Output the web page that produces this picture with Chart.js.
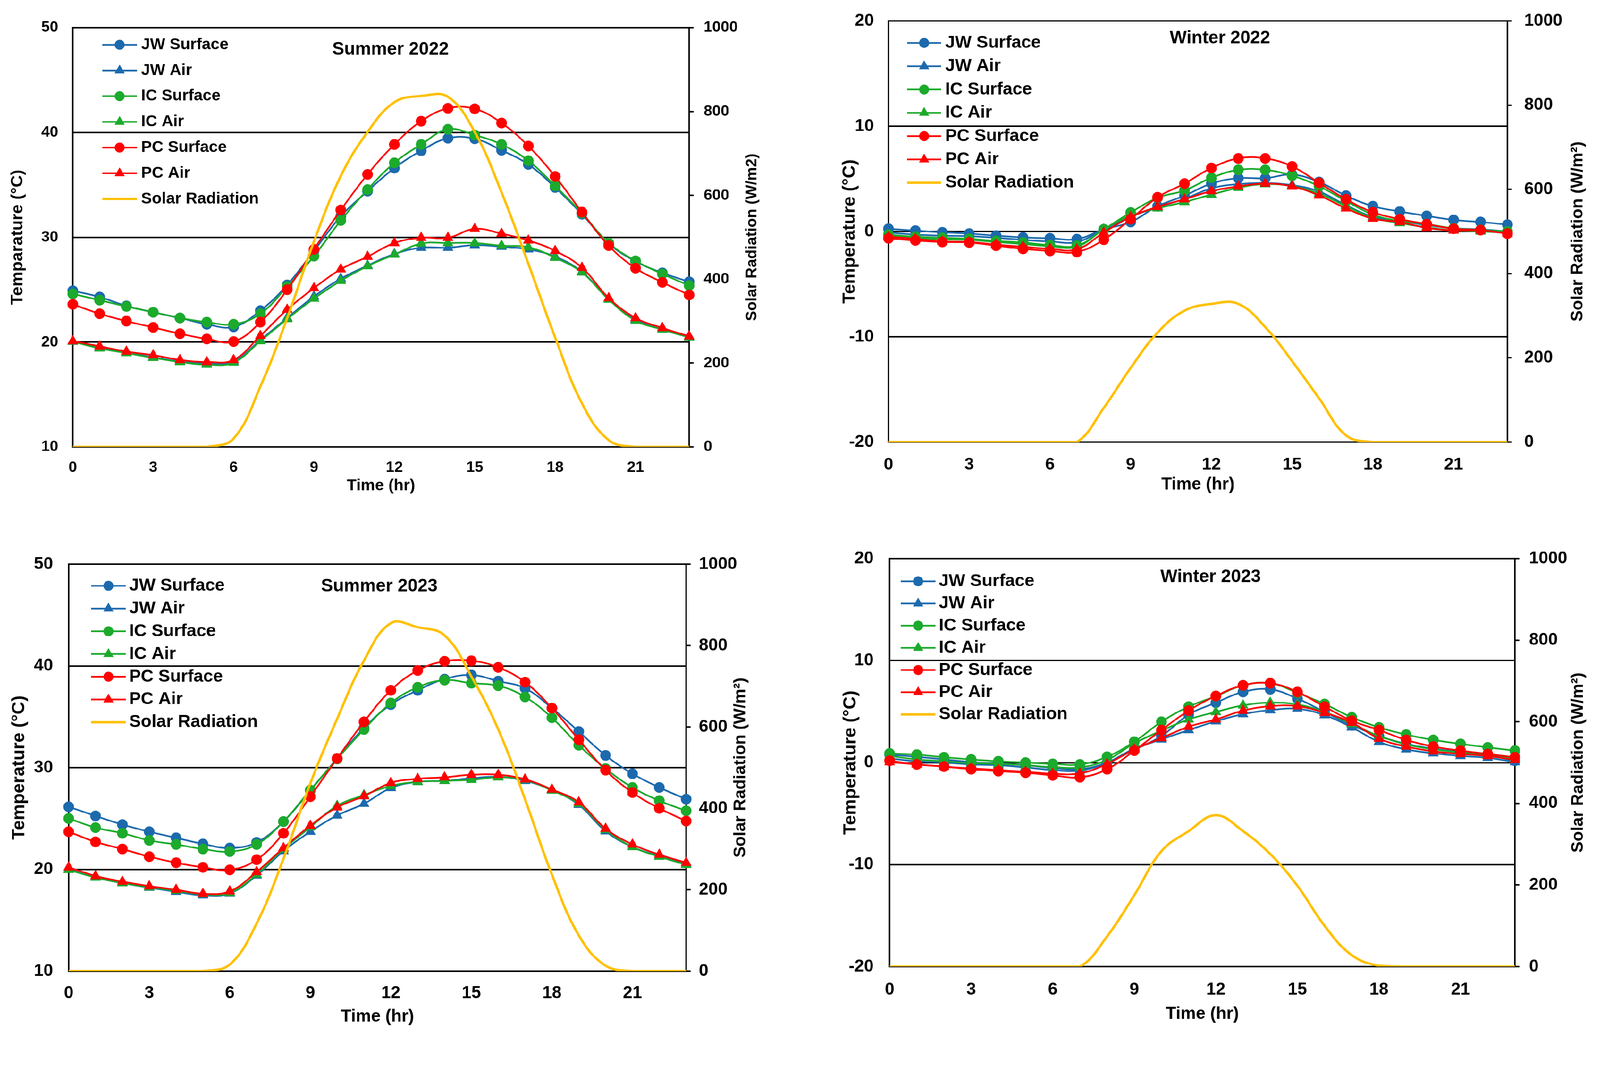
<!DOCTYPE html>
<html>
<head>
<meta charset="utf-8">
<title>Temperature and solar radiation</title>
<script src="https://cdn.jsdelivr.net/npm/chart.js@4.4.1/dist/chart.umd.min.js"></script>
<style>
    html, body { margin: 0; padding: 0; background: #fff; overflow: hidden; }
    #page { position: absolute; left: 0; top: 0; width: 4286px; height: 2767px; transform-origin: 0 0; }
    canvas { position: absolute; }
</style>
</head>
<body>
<div id="page">
<canvas id="summer22"></canvas>
<canvas id="winter22"></canvas>
<canvas id="summer23"></canvas>
<canvas id="winter23"></canvas>
</div>
<script>
/* Categories and ticks */
var hours = [0, 1, 2, 3, 4, 5, 6, 7, 8, 9, 10, 11, 12, 13, 14, 15, 16, 17, 18, 19, 20, 21, 22, 23];
var hourTicks = [0, 3, 6, 9, 12, 15, 18, 21];
var summerTempTicks = [10, 20, 30, 40, 50];
var winterTempTicks = [-20, -10, 0, 10, 20];
var solarTicks = [0, 200, 400, 600, 800, 1000];
var seriesNames = ['JW Surface', 'JW Air', 'IC Surface', 'IC Air', 'PC Surface', 'PC Air'];

/* Summer 2022 */
var jwSurfS22 = [24.9, 24.3, 23.45, 22.85, 22.3, 21.7, 21.45, 23.0, 25.45, 28.7, 32.0, 34.4, 36.6, 38.25, 39.45, 39.4, 38.3, 36.95, 34.75, 32.2, 29.4, 27.7, 26.6, 25.75];
var jwAirS22 = [20.05, 19.45, 19.0, 18.55, 18.15, 17.95, 18.15, 20.2, 22.3, 24.35, 26.05, 27.3, 28.4, 29.0, 29.0, 29.25, 29.1, 28.85, 28.15, 26.7, 24.1, 22.15, 21.2, 20.45];
var icSurfS22 = [24.6, 24.0, 23.4, 22.85, 22.3, 21.9, 21.7, 22.7, 25.3, 28.2, 31.6, 34.55, 37.1, 38.85, 40.3, 39.75, 38.85, 37.3, 34.9, 32.3, 29.45, 27.75, 26.5, 25.4];
var icAirS22 = [20.05, 19.4, 18.95, 18.5, 18.1, 17.85, 18.05, 20.1, 22.2, 24.15, 25.85, 27.25, 28.35, 29.4, 29.45, 29.45, 29.2, 29.05, 28.05, 26.65, 24.05, 22.05, 21.2, 20.45];
var pcSurfS22 = [23.6, 22.7, 22.0, 21.4, 20.8, 20.3, 20.05, 21.9, 25.0, 28.85, 32.6, 36.0, 38.85, 41.07, 42.3, 42.25, 40.9, 38.7, 35.8, 32.4, 29.2, 27.05, 25.7, 24.5];
var pcAirS22 = [20.1, 19.6, 19.1, 18.75, 18.3, 18.1, 18.3, 20.6, 23.1, 25.15, 26.95, 28.15, 29.45, 29.95, 29.95, 30.8, 30.35, 29.7, 28.7, 27.1, 24.2, 22.3, 21.35, 20.55];
var solarS22 = [0, 0, 0, 0, 0, 0, 20, 144, 307, 490, 646, 751, 822, 837, 835, 751, 607, 437, 261, 104, 16, 0, 0, 0];

/* Winter 2022 */
var jwSurfW22 = [0.26, 0.08, -0.08, -0.2, -0.4, -0.57, -0.65, -0.73, 0.2, 0.9, 2.4, 3.4, 4.55, 5.06, 5.06, 5.4, 4.7, 3.4, 2.4, 1.9, 1.48, 1.1, 0.9, 0.65];
var jwAirW22 = [-0.1, -0.3, -0.4, -0.45, -0.6, -0.8, -0.95, -1.0, 0.2, 1.4, 2.3, 3.1, 4.1, 4.5, 4.6, 4.4, 3.8, 2.5, 1.4, 1.0, 0.6, 0.3, 0.2, 0.0];
var icSurfW22 = [-0.3, -0.5, -0.6, -0.7, -0.9, -1.05, -1.3, -1.35, 0.2, 1.8, 3.2, 3.9, 5.1, 5.85, 5.85, 5.3, 4.3, 2.9, 1.6, 1.0, 0.7, 0.3, 0.15, 0.0];
var icAirW22 = [-0.4, -0.6, -0.75, -0.8, -1.0, -1.2, -1.4, -1.45, 0.2, 1.5, 2.2, 2.8, 3.5, 4.15, 4.5, 4.3, 3.6, 2.4, 1.3, 0.8, 0.4, 0.1, 0.0, -0.1];
var pcSurfW22 = [-0.65, -0.85, -1.0, -1.05, -1.35, -1.65, -1.85, -1.95, -0.78, 1.17, 3.25, 4.55, 6.03, 6.94, 6.94, 6.18, 4.62, 3.06, 1.82, 1.17, 0.7, 0.26, 0.13, -0.2];
var pcAirW22 = [-0.5, -0.7, -0.95, -1.0, -1.25, -1.45, -1.65, -1.7, -0.1, 1.38, 2.34, 3.06, 3.84, 4.28, 4.55, 4.28, 3.43, 2.2, 1.22, 0.9, 0.34, 0.1, 0.1, -0.2];
var solarW22 = [0, 0, 0, 0, 0, 0, 0, 0, 81, 176, 260, 312, 328, 328, 273, 192, 104, 16, 0, 0, 0, 0, 0, 0];

/* Summer 2023 */
var jwSurfS23 = [26.15, 25.25, 24.4, 23.7, 23.1, 22.5, 22.1, 22.65, 24.7, 27.75, 30.9, 33.9, 36.2, 37.6, 38.7, 39.1, 38.5, 37.8, 35.85, 33.55, 31.2, 29.4, 28.05, 26.9];
var jwAirS23 = [20.0, 19.2, 18.65, 18.2, 17.8, 17.45, 17.65, 19.4, 21.8, 23.7, 25.3, 26.45, 28.0, 28.6, 28.7, 28.95, 29.1, 28.7, 27.8, 26.35, 23.75, 22.2, 21.3, 20.5];
var icSurfS23 = [25.0, 24.1, 23.55, 22.85, 22.45, 22.0, 21.75, 22.45, 24.7, 27.8, 30.85, 33.75, 36.35, 37.9, 38.6, 38.3, 38.05, 36.95, 34.9, 32.2, 29.9, 28.05, 26.75, 25.75];
var icAirS23 = [19.95, 19.2, 18.65, 18.25, 17.9, 17.55, 17.7, 19.5, 22.0, 24.15, 26.25, 27.3, 28.2, 28.6, 28.7, 28.8, 29.05, 28.8, 27.75, 26.45, 23.9, 22.2, 21.25, 20.45];
var pcSurfS23 = [23.7, 22.7, 22.0, 21.25, 20.65, 20.2, 19.95, 20.95, 23.55, 27.15, 30.9, 34.5, 37.6, 39.55, 40.45, 40.5, 39.85, 38.4, 35.85, 32.75, 29.75, 27.55, 26.0, 24.75];
var pcAirS23 = [20.2, 19.35, 18.8, 18.35, 18.0, 17.6, 17.85, 19.75, 22.1, 24.3, 26.1, 27.2, 28.5, 28.9, 29.05, 29.3, 29.3, 28.85, 27.85, 26.6, 24.0, 22.45, 21.45, 20.65];
var solarS23 = [0, 0, 0, 0, 0, 0, 16, 117, 276, 461, 620, 763, 855, 845, 825, 724, 594, 422, 237, 88, 13, 0, 0, 0];

/* Winter 2023 */
var jwSurfW23 = [0.78, 0.57, 0.31, 0.05, -0.08, -0.26, -0.52, -0.65, 0.0, 1.25, 2.6, 4.7, 5.87, 6.92, 7.18, 6.27, 4.96, 3.66, 2.6, 1.83, 1.36, 1.04, 0.73, 0.18];
var jwAirW23 = [0.4, 0.13, 0.0, -0.18, -0.26, -0.47, -0.73, -0.78, 0.0, 1.36, 2.27, 3.19, 4.05, 4.75, 5.14, 5.27, 4.65, 3.45, 2.04, 1.3, 0.91, 0.65, 0.47, 0.05];
var icSurfW23 = [0.9, 0.78, 0.52, 0.31, 0.13, 0.0, -0.13, -0.18, 0.57, 2.04, 4.0, 5.48, 6.5, 7.57, 7.78, 6.84, 5.74, 4.44, 3.45, 2.74, 2.22, 1.83, 1.49, 1.17];
var icAirW23 = [0.65, 0.31, 0.13, -0.05, -0.13, -0.26, -0.44, -0.47, 0.26, 1.88, 3.13, 4.23, 4.96, 5.61, 5.87, 5.69, 4.96, 3.79, 2.61, 1.78, 1.3, 0.99, 0.73, 0.39];
var pcSurfW23 = [0.18, -0.18, -0.39, -0.65, -0.84, -0.99, -1.25, -1.44, -0.65, 1.17, 3.19, 5.09, 6.53, 7.57, 7.78, 6.92, 5.48, 4.1, 3.19, 2.22, 1.57, 1.17, 0.84, 0.52];
var pcAirW23 = [0.05, -0.18, -0.4, -0.57, -0.73, -0.9, -1.1, -1.05, -0.13, 1.3, 2.4, 3.52, 4.23, 5.09, 5.53, 5.53, 4.88, 3.92, 2.35, 1.57, 1.1, 0.84, 0.65, 0.26];
var solarW23 = [0, 0, 0, 0, 0, 0, 0, 0, 74, 175, 283, 332, 371, 332, 276, 198, 100, 28, 2, 0, 0, 0, 0, 0];

/* Styles */
var FONT = "'Liberation Sans', Arial, sans-serif";
var BLUE = '#1c6aad';
var GREEN = '#1caa2c';
var RED = '#ff0000';
var YELLOW = '#ffc000';
var seriesColors = [BLUE, BLUE, GREEN, GREEN, RED, RED];
var seriesMarkers = ['circle', 'triangle', 'circle', 'triangle', 'circle', 'triangle'];

// Space kept round each plot area for the axes (top must beat the tick label overhang)
var AXIS_LEFT = 220;
var AXIS_RIGHT = 240;
var AXIS_BOTTOM = 170;
var PAD_TOP = 110;
var RIGHT_TICK = 12;

var smallText = { tick: 41, yTitle: 45, rTitle: 41, xTitle: 43, legend: 43, title: 48 };
var bigText = { tick: 46, yTitle: 48, rTitle: 45, xTitle: 46, legend: 47, title: 48 };

/* One entry per panel: where its plot sits on the page and how its text is placed */
var panels = [
    {
        id: 'summer22', plot: [195, 74, 1846, 1197], yMin: 10, yMax: 50, yTicks: summerTempTicks,
        temps: [jwSurfS22, jwAirS22, icSurfS22, icAirS22, pcSurfS22, pcAirS22], solar: solarS22,
        title: 'Summer 2022', yTitle: 'Temparature (°C)', rTitle: 'Solar Radiation (W/m2)',
        text: smallText, titleAt: [851, 59],
        leftGap: 39, rightGap: 39, leftTitle: 147, rightTitle: 169, xTick: 48, xTitle: 104,
        legend: { lineStart: 79, lineEnd: 172, textX: 183, top: 46, gap: 68.8 }
    },
    {
        id: 'winter22', plot: [2380, 56, 4038, 1184], yMin: -20, yMax: 20, yTicks: winterTempTicks,
        temps: [jwSurfW22, jwAirW22, icSurfW22, icAirW22, pcSurfW22, pcAirW22], solar: solarW22,
        title: 'Winter 2022', yTitle: 'Temperature (°C)', rTitle: 'Solar Radiation (W/m²)',
        text: bigText, titleAt: [888, 47],
        leftGap: 39, rightGap: 45, leftTitle: 103, rightTitle: 189, xTick: 53, xTitle: 114,
        legend: { lineStart: 50, lineEnd: 141, textX: 152, top: 59, gap: 62.4 }
    },
    {
        id: 'summer23', plot: [184, 1511, 1838, 2601], yMin: 10, yMax: 50, yTicks: summerTempTicks,
        temps: [jwSurfS23, jwAirS23, icSurfS23, icAirS23, pcSurfS23, pcAirS23], solar: solarS23,
        title: 'Summer 2023', yTitle: 'Temperature (°C)', rTitle: 'Solar Radiation (W/m²)',
        text: bigText, titleAt: [832, 60],
        leftGap: 42, rightGap: 34, leftTitle: 132, rightTitle: 146, xTick: 51, xTitle: 122,
        legend: { lineStart: 60, lineEnd: 153, textX: 162, top: 58, gap: 60.9 }
    },
    {
        id: 'winter23', plot: [2383, 1496, 4058, 2589], yMin: -20, yMax: 20, yTicks: winterTempTicks,
        temps: [jwSurfW23, jwAirW23, icSurfW23, icAirW23, pcSurfW23, pcAirW23], solar: solarW23,
        title: 'Winter 2023', yTitle: 'Temperature (°C)', rTitle: 'Solar Radiation (W/m²)',
        text: bigText, titleAt: [860, 50],
        leftGap: 43, rightGap: 38, leftTitle: 104, rightTitle: 170, xTick: 54, xTitle: 127,
        legend: { lineStart: 30, lineEnd: 123, textX: 132, top: 61, gap: 59.4 }
    }
];

/* Fit the 4286 px wide page into whatever the window really is */
var page = document.getElementById('page');
var pageScale = (window.innerWidth || 4286) / 4286;
page.style.transform = 'scale(' + pageScale + ')';

/* Draw a marker like the ones Chart.js puts on the lines */
function drawMarker(ctx, style, radius, x, y) {
    if (Chart.helpers && Chart.helpers.drawPoint) {
        Chart.helpers.drawPoint(ctx, { pointStyle: style, radius: radius, rotation: 0, borderWidth: 1 }, x, y);
        return;
    }
    ctx.beginPath();
    if (style === 'triangle') {
        ctx.moveTo(x, y - radius);
        ctx.lineTo(x + radius * 0.866, y + radius / 2);
        ctx.lineTo(x - radius * 0.866, y + radius / 2);
        ctx.closePath();
    } else {
        ctx.arc(x, y, radius, 0, Math.PI * 2);
    }
    ctx.fill();
    ctx.stroke();
}

/* Panel title, right axis title (read bottom to top) and the legend inside the plot */
var panelText = {
    id: 'panelText',
    afterDatasetsDraw: function(chart, args, opts) {
        var ctx = chart.ctx;
        var area = chart.chartArea;

        ctx.save();
        ctx.fillStyle = '#000';
        ctx.textBaseline = 'middle';

        // Title inside the plot
        ctx.textAlign = 'center';
        ctx.font = 'bold ' + opts.text.title + 'px ' + FONT;
        ctx.fillText(opts.title, area.left + opts.titleAt[0], area.top + opts.titleAt[1]);

        // Legend
        var lg = opts.legend;
        ctx.textAlign = 'left';
        ctx.font = 'bold ' + opts.text.legend + 'px ' + FONT;
        chart.data.datasets.forEach(function(ds, i) {
            var y = area.top + lg.top + i * lg.gap;
            ctx.strokeStyle = ds.borderColor;
            ctx.lineWidth = ds.borderWidth;
            ctx.beginPath();
            ctx.moveTo(area.left + lg.lineStart, y);
            ctx.lineTo(area.left + lg.lineEnd, y);
            ctx.stroke();
            if (ds.pointRadius > 0) {
                ctx.fillStyle = ds.pointBackgroundColor;
                ctx.strokeStyle = ds.pointBorderColor;
                ctx.lineWidth = 1;
                drawMarker(ctx, ds.pointStyle, ds.pointRadius - 1, area.left + (lg.lineStart + lg.lineEnd) / 2, y);
            }
            ctx.fillStyle = '#000';
            ctx.fillText(ds.label, area.left + lg.textX, y);
        });

        // Right axis title
        ctx.translate(area.right + opts.rightTitle, (area.top + area.bottom) / 2);
        ctx.rotate(-Math.PI / 2);
        ctx.textAlign = 'center';
        ctx.font = 'bold ' + opts.text.rTitle + 'px ' + FONT;
        ctx.fillText(opts.rTitle, 0, 0);
        ctx.restore();
    }
};

function toPoints(values) {
    return hours.map(function(h, i) { return { x: h, y: values[i] }; });
}

function useTicks(values) {
    return function(scale) {
        scale.ticks = values.map(function(v) { return { value: v }; });
    };
}

function makePanel(p) {
    var L = p.plot[0], T = p.plot[1], R = p.plot[2], B = p.plot[3];
    var w = (R - L) + AXIS_LEFT + AXIS_RIGHT;
    var h = (B - T) + PAD_TOP + AXIS_BOTTOM;
    var canvas = document.getElementById(p.id);
    canvas.width = w;
    canvas.height = h;
    canvas.style.width = w + 'px';
    canvas.style.height = h + 'px';
    canvas.style.left = (L - AXIS_LEFT) + 'px';
    canvas.style.top = (T - PAD_TOP) + 'px';

    var fs = p.text;

    // Temperature series first, solar radiation last (drawn on top)
    var datasets = seriesNames.map(function(name, i) {
        var radius = seriesMarkers[i] === 'triangle' ? 16 : 14;
        return {
            label: name,
            data: toPoints(p.temps[i]),
            yAxisID: 'y',
            borderColor: seriesColors[i],
            backgroundColor: seriesColors[i],
            borderWidth: 4.5,
            pointStyle: seriesMarkers[i],
            pointRadius: radius,
            pointBackgroundColor: seriesColors[i],
            pointBorderColor: seriesColors[i],
            pointBorderWidth: 1,
            tension: 0.4,
            clip: false,
            order: -i
        };
    });
    datasets.push({
        label: 'Solar Radiation',
        data: toPoints(p.solar),
        yAxisID: 'y1',
        borderColor: YELLOW,
        backgroundColor: YELLOW,
        borderWidth: 6.5,
        pointRadius: 0,
        tension: 0.4,
        order: -6
    });

    var tickFont = { size: fs.tick, weight: 'bold' };

    return new Chart(canvas, {
        type: 'line',
        data: { datasets: datasets },
        plugins: [panelText],
        options: {
            responsive: false,
            animation: false,
            devicePixelRatio: 1,
            events: [],
            layout: { padding: { top: PAD_TOP, left: 0, right: 0, bottom: 0 } },
            plugins: {
                legend: { display: false },
                title: { display: false },
                tooltip: { enabled: false },
                panelText: {
                    title: p.title, titleAt: p.titleAt, rTitle: p.rTitle,
                    rightTitle: p.rightTitle, legend: p.legend, text: fs
                }
            },
            scales: {
                x: {
                    type: 'linear',
                    min: 0,
                    max: 23,
                    afterBuildTicks: useTicks(hourTicks),
                    afterFit: function(s) { s.height = AXIS_BOTTOM; },
                    grid: { display: false },
                    border: { display: true, color: '#000', width: 4 },
                    ticks: {
                        color: '#000', font: tickFont, maxRotation: 0, autoSkip: false,
                        padding: p.xTick - fs.tick * 0.6,
                        callback: function(v) { return String(v); }
                    },
                    title: {
                        display: true, text: 'Time (hr)', color: '#000',
                        font: { size: fs.xTitle, weight: 'bold' },
                        padding: { top: 0, bottom: AXIS_BOTTOM - p.xTitle - fs.xTitle * 0.6 }
                    }
                },
                y: {
                    position: 'left',
                    min: p.yMin,
                    max: p.yMax,
                    afterBuildTicks: useTicks(p.yTicks),
                    afterFit: function(s) { s.width = AXIS_LEFT; },
                    grid: { color: '#000', lineWidth: 4, drawTicks: false },
                    border: { display: true, color: '#000', width: 4 },
                    ticks: {
                        color: '#000', font: tickFont, padding: p.leftGap,
                        callback: function(v) { return String(v); }
                    },
                    title: {
                        display: true, text: p.yTitle, color: '#000',
                        font: { size: fs.yTitle, weight: 'bold' },
                        padding: { top: AXIS_LEFT - p.leftTitle - fs.yTitle * 0.6, bottom: 0 }
                    }
                },
                y1: {
                    position: 'right',
                    min: 0,
                    max: 1000,
                    afterBuildTicks: useTicks(solarTicks),
                    afterFit: function(s) { s.width = AXIS_RIGHT; },
                    grid: { drawOnChartArea: false, drawTicks: true, tickLength: RIGHT_TICK, color: '#000', lineWidth: 4 },
                    border: { display: true, color: '#000', width: 4 },
                    ticks: {
                        color: '#000', font: tickFont, padding: p.rightGap - RIGHT_TICK,
                        callback: function(v) { return String(v); }
                    }
                }
            }
        }
    });
}

Chart.defaults.font.family = FONT;
Chart.defaults.font.weight = 'bold';
Chart.defaults.color = '#000';

panels.forEach(makePanel);
</script>
</body>
</html>
